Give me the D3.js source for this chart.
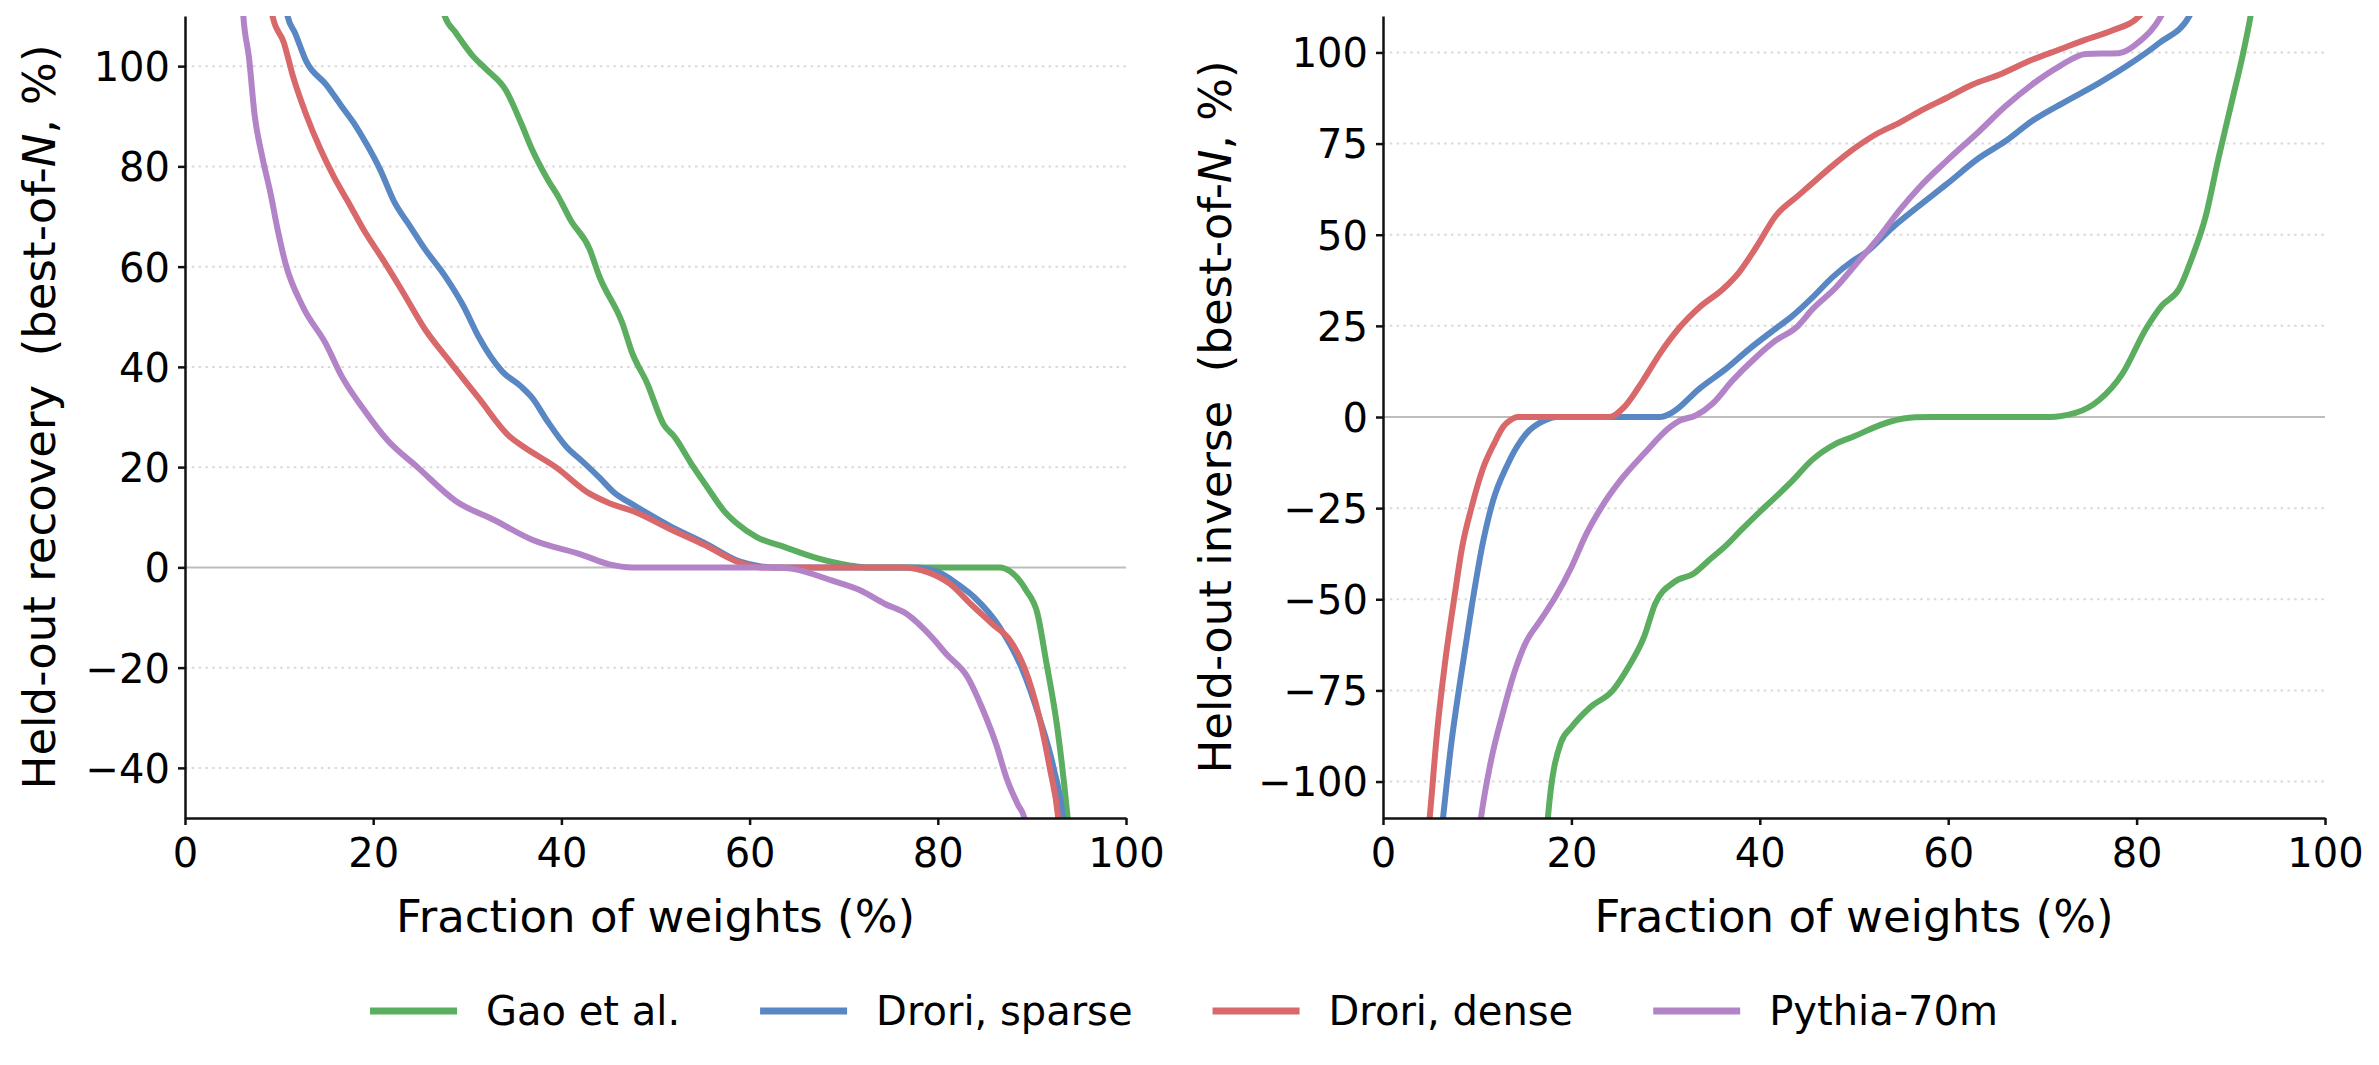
<!DOCTYPE html>
<html>
<head>
<meta charset="utf-8">
<script src="https://cdn.jsdelivr.net/npm/d3@7"></script>
<style>
  body { margin: 0; background: #fff; }
  svg { font-family: "DejaVu Sans", sans-serif; }
  text { white-space: pre; }
</style>
</head>
<body>
<svg id="chart" width="2379" height="1065"></svg>
<script>
const seriesNames = ['Gao et al.', 'Drori, sparse', 'Drori, dense', 'Pythia-70m'];
const xTicks = [0, 20, 40, 60, 80, 100];
const recoveryTicks = [-40, -20, 0, 20, 40, 60, 80, 100];
const inverseTicks = [-100, -75, -50, -25, 0, 25, 50, 75, 100];

// points are [fraction of weights %, value %]
const gaoRecovery = [[27.0,114],[27.6,110],[28.8,106.6],[30.6,102],[32.0,99.4],[34.1,95.2],[35.7,88.7],[36.9,83.3],[38.6,77.2],[39.6,74.2],[41.0,69.2],[43.0,63.5],[44.0,58.2],[46.5,48.6],[47.5,42.9],[49.1,36.8],[50.9,28.4],[52.0,26.1],[53.9,20.4],[55.5,16.0],[57.4,11.0],[58.5,9.0],[60.8,6.0],[63.8,4.0],[66.9,2.0],[70.6,0.4],[72.5,0],[86.6,0],[87.7,-0.8],[89.4,-4.6],[90.6,-9.3],[91.5,-18.6],[92.7,-32],[93.8,-50],[94.0,-54]];
const sparseRecovery = [[10.6,114],[10.9,110],[11.7,106.6],[12.9,100.9],[15.0,96.3],[16.6,92.1],[18.2,87.9],[19.4,84.1],[20.7,79.5],[22.3,72.7],[23.9,68.1],[25.5,63.5],[27.6,58.2],[29.6,52.1],[31.2,46.0],[33.7,39.1],[35.7,36.1],[36.9,33.8],[38.5,29.2],[40.6,23.9],[42.2,21.2],[44.1,17.8],[45.5,15.1],[47.9,12.2],[51.5,8.3],[55.3,4.8],[58.9,1.2],[61.2,0.2],[62.5,0],[77.5,0],[80.1,-1],[82.0,-3.2],[83.9,-6],[86.6,-12],[88.9,-20],[90.8,-30],[92.3,-40],[93.3,-50],[93.5,-54]];
const denseRecovery = [[9.0,114],[9.3,110],[10.5,104.7],[11.5,97.8],[12.9,90.2],[14.4,83.4],[15.8,78.0],[17.4,72.7],[19.0,67.3],[21.1,61.2],[23.1,55.1],[25.5,47.5],[28.0,41.4],[31.2,33.8],[34.5,26.1],[36.1,23.9],[39.4,20.0],[43.0,14.7],[45.1,12.8],[47.9,11.0],[51.6,7.6],[55.3,4.4],[58.9,1.0],[61.2,0],[76.3,0],[79.0,-1],[81.3,-3.3],[83.5,-7.3],[85.8,-11.3],[87.7,-14.6],[89.2,-20],[90.8,-30],[91.9,-40],[92.8,-50],[93.0,-54]];
const pythiaRecovery = [[6.0,116],[6.2,110],[6.8,101.7],[7.4,90.2],[8.2,82.0],[9.1,74.5],[9.8,67.8],[10.7,60.5],[12.5,52.1],[15.0,44.5],[16.6,38.3],[19.0,31.5],[21.5,25.4],[24.7,20.0],[28.8,13.2],[32.9,9.4],[36.9,5.5],[42.2,2.5],[45.1,0.6],[47.5,0],[63.0,0],[64.6,-0.3],[68.7,-2.6],[71.8,-4.6],[74.4,-7.3],[76.7,-9.3],[79.4,-14],[80.9,-17.3],[83.2,-22],[84.7,-28],[86.2,-35.3],[87.3,-42],[88.5,-47.3],[89.2,-50],[89.5,-53]];

const gaoInverse = [[17.4,-114],[17.5,-110],[18.9,-89.2],[20.0,-85.1],[22.0,-79.6],[24.4,-75.0],[26.05,-68.6],[27.7,-60.4],[28.9,-51.2],[30.9,-45.3],[32.95,-43.0],[34.6,-39.3],[36.6,-34.8],[37.8,-31.6],[39.8,-26.5],[41.5,-22.4],[43.5,-17.4],[45.5,-11.9],[48.1,-7.3],[49.9,-5.4],[53.8,-1.3],[56.5,-0.1],[58.4,0],[70.7,0],[73.5,1.1],[76.0,4.6],[78.5,11.9],[81.0,24.2],[82.7,30.6],[84.5,35.1],[85.9,43.8],[87.3,54.7],[88.7,71.1],[90.2,87.5],[91.2,98.5],[92.1,110],[92.3,113]];
const sparseInverse = [[6.2,-114],[6.37,-110],[7.2,-90.6],[8.2,-72.3],[9.4,-52.2],[10.6,-34.5],[11.7,-22.8],[13.1,-13.7],[15.2,-4.6],[17.2,-0.9],[18.4,0],[29.4,0],[30.8,1.4],[33.6,7.8],[36.4,13.2],[38.9,18.7],[41.4,23.7],[43.5,27.8],[45.6,32.8],[47.7,38.3],[49.9,42.9],[51.3,45.2],[54.1,52.0],[56.9,57.9],[59.8,63.8],[63.3,71.1],[66.1,75.7],[68.9,81.2],[72.5,86.6],[76.0,91.6],[78.9,96.2],[82.4,102.6],[85.6,110],[86.0,112]];
const denseInverse = [[4.8,-114],[4.95,-110],[5.76,-86],[6.57,-67.7],[7.58,-49.4],[8.4,-35.7],[9.41,-24.7],[10.6,-14.2],[11.8,-7.3],[12.75,-2.7],[13.5,-0.9],[14.3,0],[24.0,0],[25.7,3.0],[27.6,10.0],[29.4,17.4],[31.5,24.6],[33.6,30.1],[36.1,35.1],[37.8,39.7],[39.6,46.5],[41.7,55.2],[44.2,61.0],[45.6,64.2],[47.7,68.9],[49.9,73.4],[52.3,77.5],[54.8,80.7],[57.3,84.3],[59.8,87.5],[62.6,91.2],[65.4,93.9],[68.9,98.0],[71.8,100.8],[74.6,103.5],[77.4,106.0],[80.3,110],[80.8,112]];
const pythiaInverse = [[10.2,-114],[10.4,-110],[11.4,-95.1],[12.7,-81.4],[13.9,-70.4],[15.1,-62.2],[16.7,-55.8],[18.3,-49.4],[20.0,-41.2],[21.6,-32.0],[23.2,-24.7],[25.2,-17.4],[27.7,-10.1],[30.5,-2.7],[31.5,-1.0],[33.2,0.4],[35.0,3.7],[37.1,10.0],[39.6,16.4],[41.7,21.0],[43.9,24.6],[45.6,29.6],[48.1,35.6],[50.2,41.9],[52.7,49.5],[54.8,56.6],[56.9,62.9],[59.8,70.2],[63.3,78.4],[66.1,85.3],[68.9,91.2],[71.8,96.2],[74.6,99.6],[78.1,99.8],[80.3,103],[82.6,110],[83.0,112]];

const colors = ['#5bad5f', '#5887c3', '#d8686a', '#b383c7'];

/** One panel: axes, grid, curves */
class Panel {
    constructor(svg, opts) {
        this.svg = svg;
        this.opts = opts;
    }

    draw() {
        let o = this.opts;
        let top = 16, bottom = 818;

        let xscale = d3.scaleLinear()
            .domain([0, 100])
            .range([o.left, o.right])
            ;
        let yscale = d3.scaleLinear()
            .domain(o.yDomain)
            .range([bottom, top])
            ;

        let g = this.svg.append('g');

        g.append('clipPath')
            .attr('id', o.id + '-clip')
            .append('rect')
            .attr('x', o.left)
            .attr('y', top)
            .attr('width', o.right - o.left)
            .attr('height', bottom - top);

        // dotted grid, solid zero line
        g.selectAll('.grid')
            .data(o.yTicks.filter(d => d !== 0))
            .join('line')
            .attr('x1', o.left).attr('x2', o.right)
            .attr('y1', d => yscale(d)).attr('y2', d => yscale(d))
            .attr('stroke', '#d9d9d9')
            .attr('stroke-width', 2)
            .attr('stroke-dasharray', '2.5,4.3');

        g.append('line')
            .attr('x1', o.left).attr('x2', o.right)
            .attr('y1', yscale(0)).attr('y2', yscale(0))
            .attr('stroke', '#bdbdbd')
            .attr('stroke-width', 2);

        let line = d3.line()
            .x(d => xscale(d[0]))
            .y(d => yscale(d[1]))
            .curve(d3.curveMonotoneX);

        g.append('g')
            .attr('clip-path', `url(#${o.id}-clip)`)
            .selectAll('path')
            .data(o.series)
            .join('path')
            .attr('d', d => line(d))
            .attr('fill', 'none')
            .attr('stroke', (d, i) => colors[i])
            .attr('stroke-width', 6)
            .attr('stroke-linejoin', 'round');

        let xaxis = d3.axisBottom(xscale)
            .tickValues(xTicks)
            .tickSizeInner(7)
            .tickSizeOuter(0)
            ;
        let yaxis = d3.axisLeft(yscale)
            .tickValues(o.yTicks)
            .tickSizeInner(7)
            .tickSizeOuter(0)
            .tickPadding(8)
            ;

        let gx = g.append('g')
            .attr('transform', `translate(0, ${bottom})`)
            .call(xaxis);
        gx.selectAll('text').attr('y', 49).attr('dy', 0);

        let gy = g.append('g')
            .attr('transform', `translate(${o.left}, 0)`)
            .call(yaxis);
        gy.selectAll('text').attr('dy', '0.36em');

        [gx, gy].forEach(a => {
            a.attr('font-size', 40).attr('font-family', '"DejaVu Sans", sans-serif');
            a.selectAll('path, line').attr('stroke', '#111').attr('stroke-width', 2.5);
            a.selectAll('text').attr('fill', '#000');
        });

        g.append('text')
            .attr('x', (o.left + o.right) / 2)
            .attr('y', 932)
            .attr('text-anchor', 'middle')
            .attr('font-size', 45)
            .text('Fraction of weights (%)');

        let ylab = g.append('text')
            .attr('transform', `translate(${o.labelX}, ${(top + bottom) / 2}) rotate(-90)`)
            .attr('text-anchor', 'middle')
            .attr('font-size', 45);
        ylab.append('tspan').text(o.yLabel + '  (best-of-');
        ylab.append('tspan').attr('font-style', 'italic').text('N');
        ylab.append('tspan').text(', %)');
    }
}

const svg = d3.select('#chart');

new Panel(svg, {
    id: 'rec', left: 185, right: 1126, labelX: 55,
    yDomain: [-50, 110], yTicks: recoveryTicks,
    yLabel: 'Held-out recovery',
    series: [gaoRecovery, sparseRecovery, denseRecovery, pythiaRecovery]
}).draw();

new Panel(svg, {
    id: 'inv', left: 1383, right: 2325, labelX: 1231,
    yDomain: [-110, 110], yTicks: inverseTicks,
    yLabel: 'Held-out inverse',
    series: [gaoInverse, sparseInverse, denseInverse, pythiaInverse]
}).draw();

// legend along the bottom, centred
let legend = svg.append('g').attr('font-size', 40);
let handleLen = 87, handlePad = 29, colGap = 80, legendY = 1011;
let items = legend.selectAll('g')
    .data(seriesNames)
    .join('g');
items.append('line')
    .attr('x1', 0).attr('x2', handleLen)
    .attr('y1', 0).attr('y2', 0)
    .attr('stroke', (d, i) => colors[i])
    .attr('stroke-width', 7);
items.append('text')
    .attr('x', handleLen + handlePad)
    .attr('dy', '0.36em')
    .text(d => d);

let widths = [];
items.each(function () {
    widths.push(handleLen + handlePad + d3.select(this).select('text').node().getComputedTextLength());
});
let total = d3.sum(widths) + colGap * (widths.length - 1);
let cx = 1184 - total / 2;
items.attr('transform', (d, i) => {
    let x = cx + d3.sum(widths.slice(0, i)) + colGap * i;
    return `translate(${x}, ${legendY})`;
});
</script>
</body>
</html>
